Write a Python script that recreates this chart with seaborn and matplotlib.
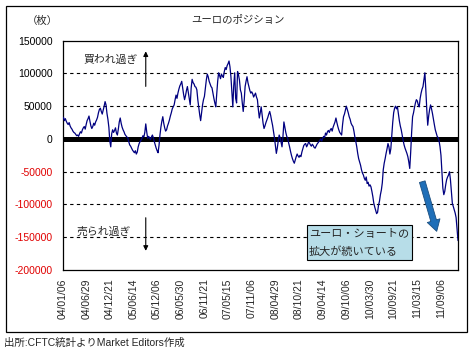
import matplotlib
matplotlib.use('Agg')
import matplotlib.pyplot as plt
from matplotlib.patches import Rectangle, FancyArrowPatch
import seaborn as sns
import pandas as pd

# weekly net position (thousand contracts), 2004/01/06 onward
pos_2004a = [30, 33, 28, 31, 27, 24, 22, 25, 20, 17, 15, 12, 10, 9, 7, 5, 6, 4, 8, 11, 9, 14, 17, 19, 15]
pos_2004b = [22, 28, 31, 35, 27, 20, 16, 19, 24, 21, 26, 29, 33, 40, 45, 47, 42, 38, 44, 50, 57, 52, 39, 30, 18]
pos_2005a = [-3, -12, 8, 14, 10, 13, 17, 9, 6, 15, 26, 32, 24, 18, 14, 11, 7, 5, 3, 2, -4, -9, -11, -14, -17]
pos_2005b = [-19, -21, -18, -23, -20, -12, -7, -4, -2, 1, 5, 3, 10, 23, 11, 1, 4, 2, -1, 3, 6, 2, -4, -9, -14]
pos_2006a = [-18, -21, -10, 6, 18, 27, 34, 24, 17, 12, 14, 20, 24, 29, 35, 40, 46, 49, 52, 60, 67, 62, 70, 76, 81]
pos_2006b = [84, 88, 78, 68, 60, 66, 74, 80, 71, 62, 52, 78, 91, 86, 84, 80, 79, 75, 60, 48, 37, 28, 40, 52, 60]
pos_2007a = [65, 78, 90, 99, 95, 88, 84, 80, 78, 70, 62, 55, 49, 68, 88, 101, 97, 92, 99, 96, 94, 103, 109, 106, 112]
pos_2007b = [115, 119, 110, 95, 72, 49, 82, 101, 62, 55, 103, 98, 90, 75, 70, 55, 42, 58, 80, 88, 95, 86, 80, 74, 70]
pos_2008a = [72, 69, 64, 67, 70, 64, 60, 45, 32, 40, 49, 36, 24, 16, 20, 25, 29, 33, 38, 42, 36, 28, 21, 12, 2]
pos_2008b = [-10, -22, -14, -3, 6, 2, -5, -12, 4, 26, 18, 10, 4, 1, -6, -12, -19, -25, -30, -34, -37, -32, -27, -23, -26]
pos_2009a = [-28, -25, -27, -20, -15, -10, -8, -7, -12, -9, -5, -6, -9, -11, -8, -10, -13, -14, -11, -8, -6, -4, -2, 0, -3]
pos_2009b = [1, 4, 2, 9, 6, 11, 13, 10, 14, 16, 12, 18, 22, 26, 32, 25, 19, 14, 10, 8, 6, 22, 34, 38, 44]
pos_2010a = [50, 45, 40, 34, 30, 24, 21, 19, 12, 3, -4, -12, -22, -30, -35, -40, -47, -52, -55, -60, -63, -58, -68, -66, -72]
pos_2010b = [-70, -73, -80, -88, -98, -104, -109, -114, -112, -101, -95, -85, -78, -67, -47, -37, -30, -22, -15, -7, -12, -23, -15, 5, 25]
pos_2011a = [40, 47, 50, 46, 49, 38, 28, 20, 14, 6, -2, -9, -14, -18, -22, -27, -35, -45, -20, 10, 34, 40, 48, 55, 60]
pos_2011b = [58, 52, 49, 62, 70, 76, 80, 90, 101, 75, 45, 21, 35, 45, 52, 46, 39, 30, 22, 14, 9, 4, 2, -3, -12]
pos_2011c = [-25, -50, -75, -85, -80, -70, -62, -58, -55, -50, -62, -80, -98, -103, -108, -113, -120, -138, -155]

y_ticks = [-200000, -150000, -100000, -50000, 0, 50000, 100000, 150000]
grid_levels = [-150000, -100000, -50000, 50000, 100000]
label_every = 25

values = (pos_2004a + pos_2004b + pos_2005a + pos_2005b + pos_2006a + pos_2006b + pos_2007a + pos_2007b
          + pos_2008a + pos_2008b + pos_2009a + pos_2009b + pos_2010a + pos_2010b + pos_2011a + pos_2011b + pos_2011c)
dates = pd.date_range('2004-01-06', periods=len(values), freq='7D')
df = pd.DataFrame({'week': range(len(values)), 'pos': [v * 1000 for v in values]})

sns.set_style('white')
plt.rcParams['font.family'] = ['Liberation Sans', 'Noto Sans CJK JP']
plt.rcParams['axes.unicode_minus'] = False

W, H = 471, 352
fig = plt.figure(figsize=(W / 100, H / 100), dpi=100)
ax = fig.add_axes([62.5 / W, 1 - 270 / H, (458 - 62.5) / W, (270 - 40.7) / H])

for lv in grid_levels:
    ax.axhline(lv, color='black', lw=0.8, ls=(0, (3, 3)), zorder=1)
ax.axhline(0, color='black', lw=3.6, zorder=2)

sns.lineplot(data=df, x='week', y='pos', ax=ax, color='#000080', lw=0.9, zorder=3)

ax.set_xlim(0, len(values) - 1)
ax.set_ylim(-200000, 150000)
ax.set_yticks(y_ticks)
ax.set_yticklabels([str(t) for t in y_ticks])
for lab, t in zip(ax.get_yticklabels(), y_ticks):
    lab.set_color('#e00000' if t < 0 else 'black')
xt = list(range(0, len(values), label_every))
ax.set_xticks(xt)
ax.set_xticklabels([dates[i].strftime('%y/%m/%d') for i in xt], rotation=90, va='top')
ax.tick_params(axis='y', length=0, pad=7, labelsize=7.5)
ax.tick_params(axis='x', length=0, pad=6, labelsize=7.5)
ax.set_xlabel('')
ax.set_ylabel('')
for s in ax.spines.values():
    s.set_color('black')
    s.set_linewidth(0.9)

# over-bought / over-sold marks
ax.text(51, 121000, '買われ過ぎ', fontsize=7.8, ha='center', va='center')
ax.annotate('', xy=(88, 138000), xytext=(88, 76000),
            arrowprops=dict(arrowstyle='-|>', color='black', lw=0.8, mutation_scale=7))
ax.text(44, -142000, '売られ過ぎ', fontsize=7.8, ha='center', va='center')
ax.annotate('', xy=(88, -175000), xytext=(88, -116000),
            arrowprops=dict(arrowstyle='-|>', color='black', lw=0.8, mutation_scale=7))

# callout
fig.patches.append(Rectangle((307 / W, 1 - 260 / H), 105 / W, 35 / H, transform=fig.transFigure,
                             facecolor='#b7dde8', edgecolor='black', lw=0.8, zorder=5))
fig.text(309 / W, 1 - 234 / H, 'ユーロ・ショートの', fontsize=8, va='center', ha='left', zorder=6)
fig.text(309 / W, 1 - 251 / H, '拡大が続いている', fontsize=8, va='center', ha='left', zorder=6)
arr = FancyArrowPatch((421.5 / W, 1 - 179 / H), (437.5 / W, 1 - 234 / H), transform=fig.transFigure,
                      arrowstyle='simple,head_length=0.8,head_width=0.95,tail_width=0.42', mutation_scale=10,
                      facecolor='#1f6fb8', edgecolor='#1b4f80', lw=0.6, zorder=6)
fig.patches.append(arr)

fig.text(238 / W, 1 - 20 / H, 'ユーロのポジション', fontsize=7.5, ha='center', va='center')
fig.text(42 / W, 1 - 21 / H, '（枚）', fontsize=7.5, ha='center', va='center')
fig.text(4 / W, 1 - 343 / H, '出所:CFTC統計よりMarket Editors作成', fontsize=7.5, ha='left', va='center')

fig.patches.append(Rectangle((6 / W, 1 - 332 / H), 461 / W, 326 / H, transform=fig.transFigure,
                             facecolor='none', edgecolor='black', lw=0.9))

fig.savefig('out.png', dpi=100)
